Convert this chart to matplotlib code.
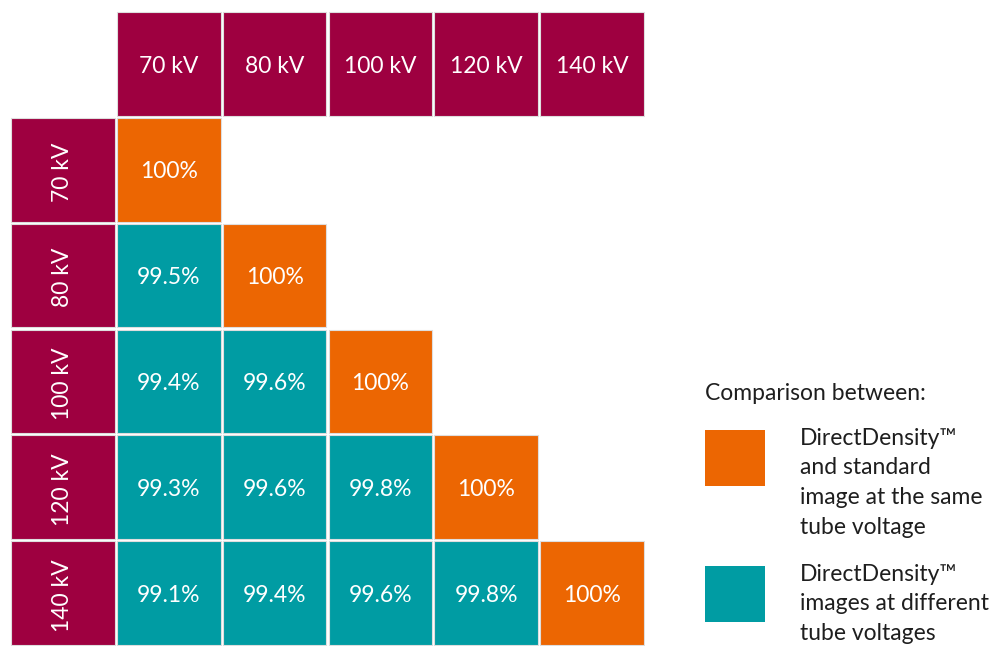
import numpy as np
import matplotlib
matplotlib.use("Agg")
import matplotlib.pyplot as plt
from matplotlib.patches import Rectangle

voltages = ["70 kV", "80 kV", "100 kV", "120 kV", "140 kV"]
# similarity (%) per row voltage vs column voltage, lower triangle only
row_70 = [100]
row_80 = [99.5, 100]
row_100 = [99.4, 99.6, 100]
row_120 = [99.3, 99.6, 99.8, 100]
row_140 = [99.1, 99.4, 99.6, 99.8, 100]
rows = [row_70, row_80, row_100, row_120, row_140]

legend_title = "Comparison between:"
legend_same = "DirectDensity™\nand standard\nimage at the same\ntube voltage"
legend_diff = "DirectDensity™\nimages at different\ntube voltages"

berry = "#9e0040"
orange = "#ec6602"
teal = "#009ca3"
edge = "#dedede"

plt.rcParams["font.family"] = ["Lato", "DejaVu Sans"]
fs = 16.5

fig = plt.figure(figsize=(10.07, 6.5), dpi=100)
W, H = 1007, 650
ax = fig.add_axes([10 / W, 1 - 646 / H, 635 / W, 635 / H])
ax.set_xlim(-1, 5)
ax.set_ylim(5, -1)
ax.axis("off")

gap = 0.02


def cell(x, y, color, label, rot=0):
    ax.add_patch(Rectangle((x - 0.5 + gap / 2, y - 0.5 + gap / 2), 1 - gap, 1 - gap,
                           facecolor=color, edgecolor=edge, linewidth=0.8))
    ax.text(x, y + 0.02, label, ha="center", va="center", color="white",
            fontsize=fs, rotation=rot)


# headers
for i, v in enumerate(voltages):
    cell(i + 0.5, -0.5, berry, v)
    cell(-0.5, i + 0.5, berry, v, rot=90)

# values
for r, vals in enumerate(rows):
    for c, val in enumerate(vals):
        color = orange if r == c else teal
        cell(c + 0.5, r + 0.5, color, "%g%%" % val)

# legend in pixel space
lax = fig.add_axes([0, 0, 1, 1])
lax.set_xlim(0, W)
lax.set_ylim(H, 0)
lax.axis("off")
tc = "#1e1e1e"
lax.text(705, 394, legend_title, fontsize=fs, color=tc, va="center", ha="left")
lax.add_patch(Rectangle((705, 430), 60, 56, facecolor=orange, edgecolor="none"))
lax.add_patch(Rectangle((705, 566), 60, 56, facecolor=teal, edgecolor="none"))
lax.text(800, 428, legend_same, fontsize=fs, color=tc, va="top", ha="left",
         linespacing=1.5)
lax.text(800, 564, legend_diff, fontsize=fs, color=tc, va="top", ha="left",
         linespacing=1.5)

fig.savefig("out.png", dpi=100)
